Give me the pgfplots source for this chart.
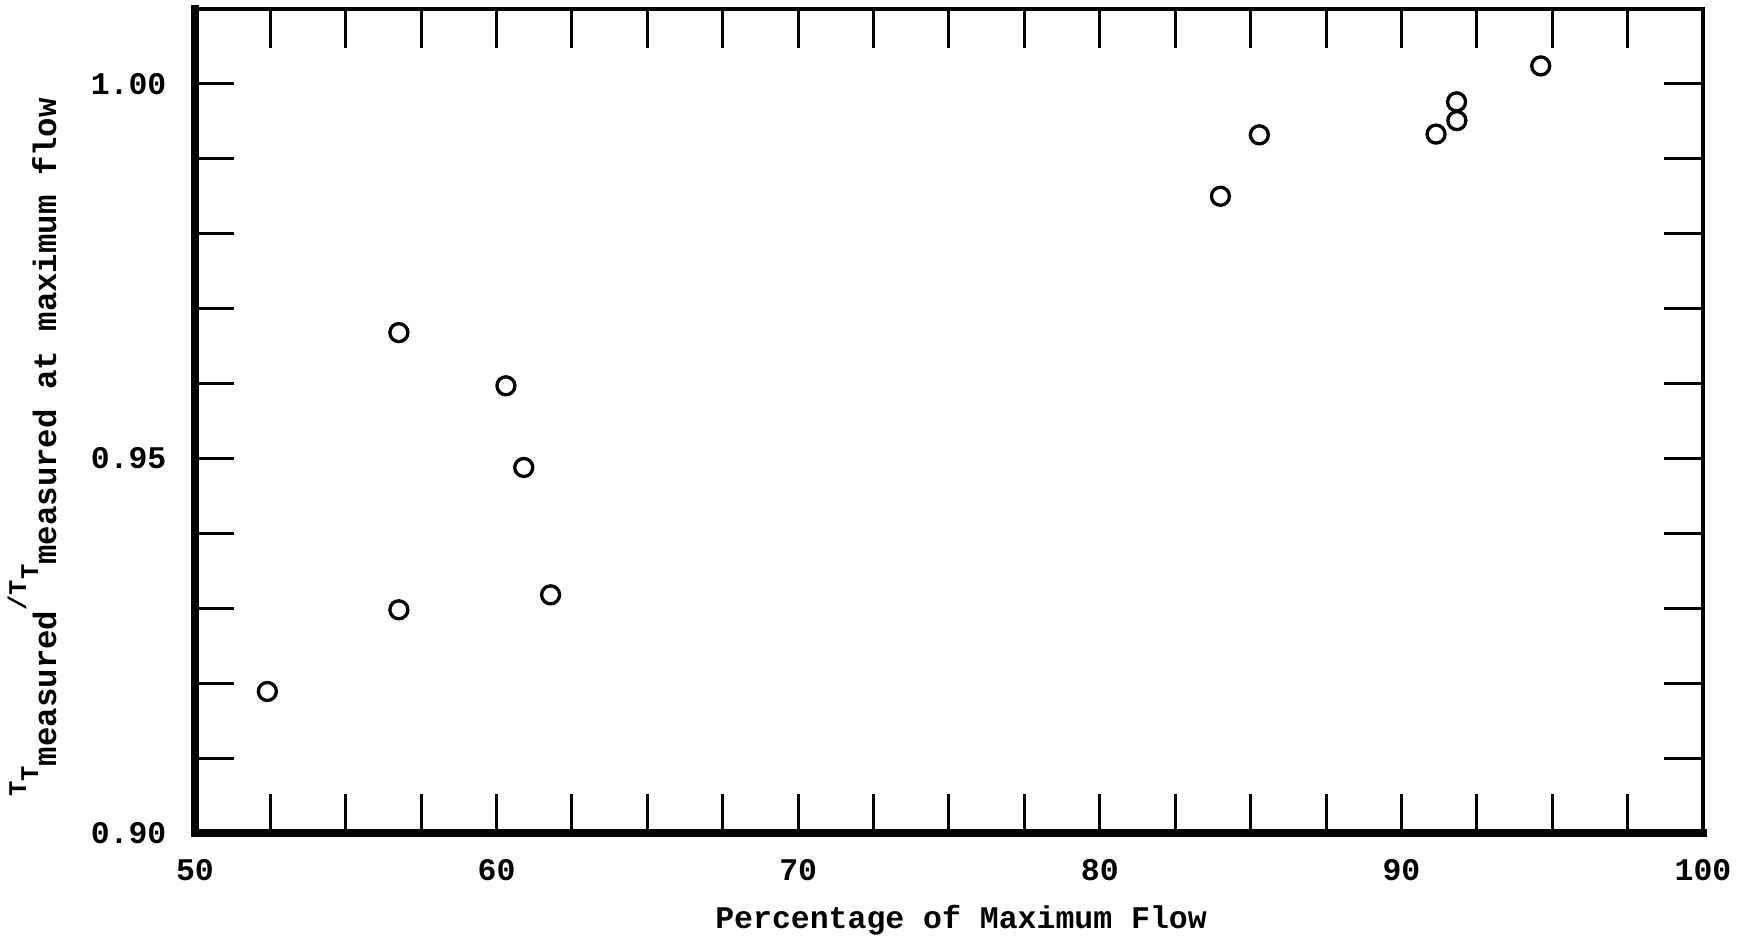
\documentclass[border=0pt]{standalone}
\usepackage{fontspec}
\setmainfont{Liberation Mono}
\usepackage{pgfplots}
\pgfplotsset{compat=1.18}
\newcommand{\sm}[1]{{\fontsize{8.5}{10}\selectfont #1}}
\newcommand{\bg}[1]{{\fontsize{10.8}{12}\selectfont #1}}
\begin{document}
\begin{tikzpicture}
\begin{axis}[
  scale only axis,
  width=502.7pt, height=274.7pt,
  xmin=50, xmax=100, ymin=0.90, ymax=1.01,
  xtick={50,52.5,...,100},
  xticklabels={50,,,,60,,,,70,,,,80,,,,90,,,,100},
  ytick={0.90,0.91,...,1.0},
  yticklabels={0.90,,,,,0.95,,,,,1.00},
  tick align=inside,
  major tick length=13pt,
  tick style={line width=1pt, black},
  axis line style={line width=1.2pt},
  /pgf/number format/assume math mode=true,
  ticklabel style={font=\fontsize{10.5}{12}\selectfont\bfseries},
  xticklabel style={anchor=center, yshift=-12.3pt},
  yticklabel style={anchor=east, xshift=-6pt},
  xlabel={Percentage of Maximum Flow},
  xlabel style={font=\fontsize{10.5}{12}\selectfont\bfseries, at={(axis description cs:0.508,-0.1056)}, anchor=center},
  ylabel={\sm{T}\raisebox{-4pt}{\sm{T}}\raisebox{-10pt}{\bg{measured}}\sm{/T}\raisebox{-4pt}{\sm{T}}\raisebox{-10pt}{\bg{measured at maximum flow}}},
  ylabel style={font=\bfseries, at={(axis description cs:-0.108,0.468)}, anchor=center, rotate=0},
  clip=false,
]
\draw[line width=2.4pt, line cap=rect] (rel axis cs:0,1) -- (rel axis cs:0,0) -- (rel axis cs:1,0);
\addplot[only marks, mark=o, mark size=3pt, line width=1.1pt, black] coordinates {
(52.4,0.9189)
(56.76,0.9668)
(56.76,0.9298)
(60.31,0.9597)
(60.9,0.9488)
(61.79,0.9318)
(84.0,0.9850)
(85.29,0.9932)
(91.15,0.9933)
(91.83,0.9976)
(91.84,0.9951)
(94.62,1.0024)
};
\end{axis}
\pgfresetboundingbox
\path[use as bounding box] (-65pt,-35pt) rectangle (517.7pt,277.7pt);
\end{tikzpicture}
\end{document}
